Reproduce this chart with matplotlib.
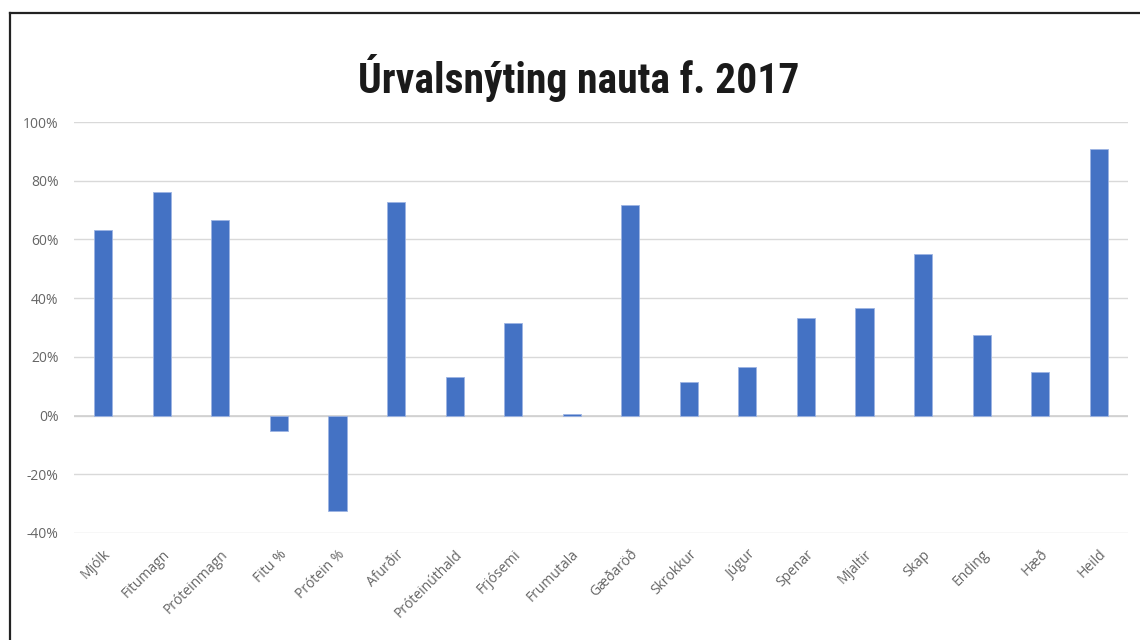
import matplotlib.pyplot as plt
from matplotlib import font_manager as fm
from matplotlib.lines import Line2D
from matplotlib.ticker import FuncFormatter

# values (percent)
categories = ['Mjólk', 'Fitumagn', 'Próteinmagn', 'Fitu %', 'Prótein %', 'Afurðir',
              'Próteinúthald', 'Frjósemi', 'Frumutala', 'Gæðaröð', 'Skrokkur', 'Júgur',
              'Spenar', 'Mjaltir', 'Skap', 'Ending', 'Hæð', 'Heild']
values = [63.3, 76.0, 66.5, -5.1, -32.5, 72.6,
          13.3, 31.7, 0.6, 71.8, 11.5, 16.6,
          33.2, 36.8, 55.0, 27.3, 15.0, 90.7]
yticks = [-40, -20, 0, 20, 40, 60, 80, 100]

plt.rcParams['font.family'] = ['Open Sans', 'DejaVu Sans']

# pick a narrow face for the title if one is installed
names = {f.name for f in fm.fontManager.ttflist}
title_font, title_size = 'DejaVu Sans', 26
for name, size in [('Liberation Sans Narrow', 30), ('DejaVu Sans Condensed', 27),
                   ('Roboto Condensed', 30), ('Noto Sans Condensed', 29),
                   ('Open Sans Condensed', 30)]:
    if name in names:
        title_font, title_size = name, size
        break

fig = plt.figure(figsize=(11.4, 6.4), dpi=100)
ax = fig.add_axes([74 / 1140, 1 - 533 / 640, (1128 - 74) / 1140, (533 - 122) / 640])

x = range(len(categories))
ax.bar(x, values, width=0.31, color='#4472C4', edgecolor='#9db4e3', linewidth=0.6, zorder=3)

ax.set_xlim(-0.5, len(categories) - 0.5)
ax.set_ylim(-40, 100)
ax.set_yticks(yticks)
ax.yaxis.set_major_formatter(FuncFormatter(lambda v, p: f'{v:.0f}%'.replace('\u2212', '-')))
ax.grid(axis='y', color='#d9d9d9', linewidth=1, zorder=0)
ax.axhline(0, color='#d0d0d0', linewidth=1.2, zorder=2)
for s in ax.spines.values():
    s.set_visible(False)
ax.tick_params(length=0, colors='#666666', labelsize=10)
ax.tick_params(axis='y', pad=11)
ax.tick_params(axis='x', pad=10)
ax.set_xticks(list(x))
ax.set_xticklabels(categories, rotation=45, ha='right', rotation_mode='anchor')

fig.text(0.508, 1 - 78 / 640, 'Úrvalsnýting nauta f. 2017', ha='center', va='center',
         fontsize=title_size, fontweight='bold', family=[title_font, 'DejaVu Sans'],
         color='#1a1a1a')

# chart frame (left and top edges visible in the crop)
fig.add_artist(Line2D([10 / 1140, 10 / 1140], [0, 1 - 13 / 640], color='#222222', lw=1.6,
                      transform=fig.transFigure))
fig.add_artist(Line2D([10 / 1140, 1], [1 - 13 / 640, 1 - 13 / 640], color='#222222', lw=1.6,
                      transform=fig.transFigure))

fig.savefig('out.png', dpi=100, facecolor='white')
